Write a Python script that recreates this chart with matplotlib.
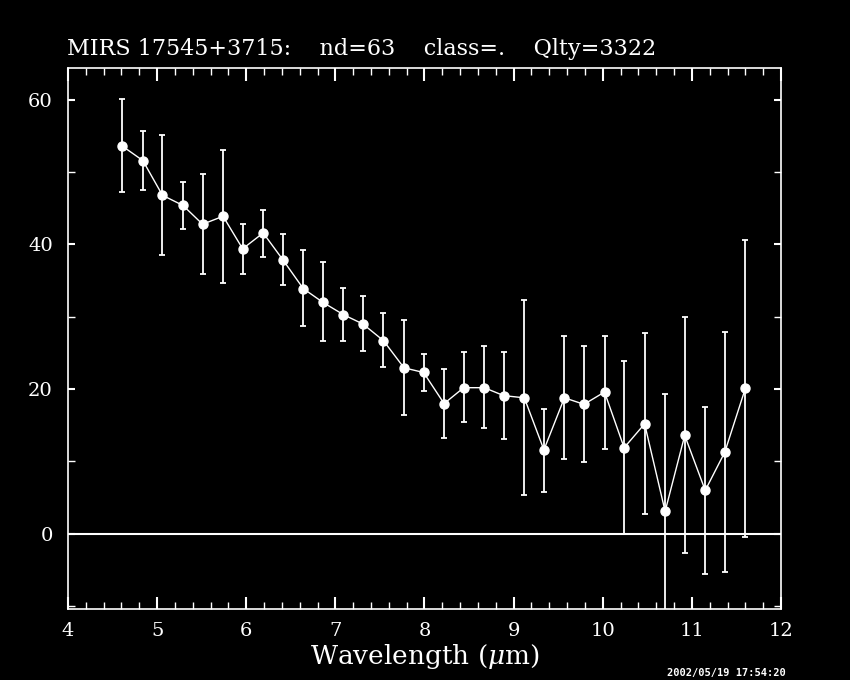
import matplotlib
matplotlib.use("Agg")
import matplotlib.pyplot as plt
from matplotlib.ticker import MultipleLocator

# values
wavelength = [4.61, 4.84, 5.06, 5.29, 5.51, 5.74, 5.96, 6.19, 6.41, 6.64,
              6.86, 7.09, 7.31, 7.54, 7.77, 7.99, 8.22, 8.44, 8.67, 8.89,
              9.12, 9.34, 9.57, 9.79, 10.02, 10.24, 10.47, 10.70, 10.92,
              11.15, 11.37, 11.60]
flux = [53.6, 51.6, 46.8, 45.4, 42.8, 43.9, 39.4, 41.6, 37.9, 33.9,
        32.0, 30.3, 29.0, 26.7, 22.95, 22.3, 18.0, 20.2, 20.2, 19.1,
        18.8, 11.6, 18.8, 17.9, 19.6, 11.9, 15.2, 3.1, 13.6, 6.0,
        11.3, 20.1]
err_hi = [60.1, 55.7, 55.1, 48.6, 49.7, 53.0, 42.8, 44.8, 41.4, 39.2,
          37.6, 34.0, 32.9, 30.5, 29.5, 24.8, 22.8, 25.1, 25.9, 25.2,
          32.3, 17.3, 27.4, 25.9, 27.3, 23.9, 27.7, 19.3, 30.0, 17.5,
          27.9, 40.6]
err_lo = [47.2, 47.5, 38.5, 42.1, 35.9, 34.7, 35.9, 38.3, 34.4, 28.7,
          26.6, 26.6, 25.3, 23.0, 16.4, 19.8, 13.2, 15.4, 14.6, 13.1,
          5.3, 5.8, 10.3, 9.9, 11.75, 0.0, 2.7, -13.0, -2.7, -5.5,
          -5.3, -0.4]

title = "MIRS 17545+3715:    nd=63    class=.    Qlty=3322"
stamp = "2002/05/19 17:54:20"

plt.rcParams['font.family'] = ['DejaVu Serif']
plt.rcParams['mathtext.fontset'] = 'dejavuserif'

fig = plt.figure(figsize=(8.5, 6.8), dpi=100, facecolor='black')
ax = fig.add_axes([0.08, 0.1044, 0.8388, 0.7956], facecolor='black')

yerr = [[f - lo for f, lo in zip(flux, err_lo)],
        [hi - f for f, hi in zip(flux, err_hi)]]
ax.errorbar(wavelength, flux, yerr=yerr, fmt='o-', color='white',
            ecolor='white', elinewidth=1.3, capsize=2.5, capthick=1.3,
            markersize=6.5, linewidth=1.0, zorder=3)
ax.axhline(0, color='white', linewidth=1.5, zorder=2)

ax.set_xlim(4, 12)
ax.set_ylim(-10.4, 64.4)
ax.xaxis.set_major_locator(MultipleLocator(1))
ax.xaxis.set_minor_locator(MultipleLocator(0.2))
ax.yaxis.set_major_locator(MultipleLocator(20))
ax.yaxis.set_minor_locator(MultipleLocator(10))

for sp in ax.spines.values():
    sp.set_color('white')
    sp.set_linewidth(1.2)
ax.tick_params(which='both', direction='in', colors='white',
               top=True, right=True, labelsize=14)
ax.tick_params(which='major', length=9, width=1.5)
ax.tick_params(which='minor', length=5, width=1.0)
ax.tick_params(axis='y', which='both', length=5, pad=11)
ax.tick_params(axis='x', pad=9)

ax.set_xlabel("Wavelength ($\\mu$m)", color='white', fontsize=19, labelpad=2)
fig.text(0.079, 0.912, title, color='white', fontsize=16, ha='left',
         va='bottom')
fig.text(0.924, 0.003, stamp, color='white', fontsize=7.5, ha='right',
         va='bottom', family='DejaVu Sans Mono', weight='bold')

plt.savefig('out.png', facecolor='black')
